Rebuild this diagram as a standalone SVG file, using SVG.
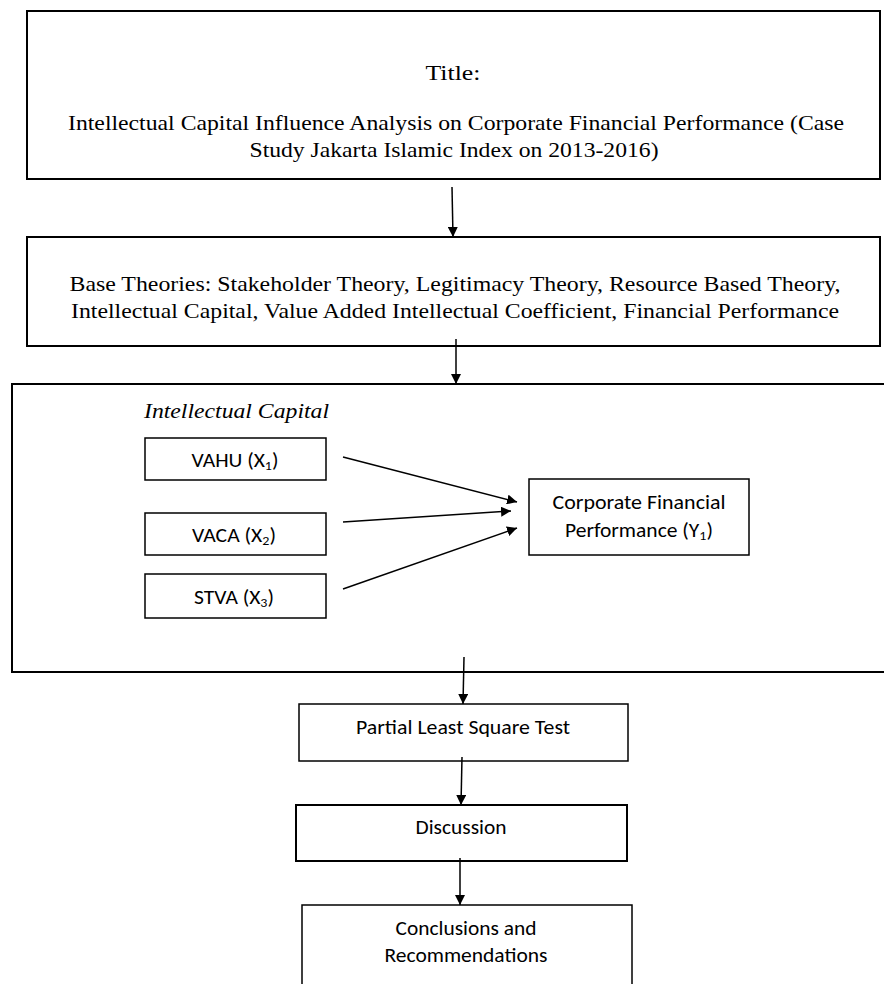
<svg xmlns="http://www.w3.org/2000/svg" width="884" height="984" viewBox="0 0 884 984">
<defs>
<marker id="ah" markerWidth="11" markerHeight="10" refX="10" refY="5" orient="auto" markerUnits="userSpaceOnUse">
<path d="M0,0 L10,5 L0,10 Z" fill="#000"/>
</marker>
<style>
.box{fill:#fff;stroke:#000;stroke-width:2}
.sbox{fill:#fff;stroke:#000;stroke-width:1.5}
.serif{font-family:"Liberation Serif","Times New Roman",serif;font-size:22px;fill:#000;text-anchor:middle}
.sans{font-family:"Carlito","Liberation Sans",Arial,sans-serif;font-size:20px;fill:#000;text-anchor:middle}
.sub{font-size:13px}
.conn{stroke:#000;stroke-width:1.5;fill:none;marker-end:url(#ah)}
</style>
</defs>
<rect width="884" height="984" fill="#fff"/>
<g id="title">
<rect class="box" x="27" y="11" width="853" height="168"/>
<text class="serif" x="453" y="80" textLength="55" lengthAdjust="spacingAndGlyphs">Title:</text>
<text class="serif" x="456" y="130" textLength="776" lengthAdjust="spacingAndGlyphs">Intellectual Capital Influence Analysis on Corporate Financial Performance (Case</text>
<text class="serif" x="454" y="157" textLength="409" lengthAdjust="spacingAndGlyphs">Study Jakarta Islamic Index on 2013-2016)</text>
</g>
<g id="theories">
<rect class="box" x="27" y="237" width="853" height="109"/>
<text class="serif" x="455" y="291" textLength="771" lengthAdjust="spacingAndGlyphs">Base Theories: Stakeholder Theory, Legitimacy Theory, Resource Based Theory,</text>
<text class="serif" x="455" y="318" textLength="768" lengthAdjust="spacingAndGlyphs">Intellectual Capital, Value Added Intellectual Coefficient, Financial Performance</text>
</g>
<g id="ic">
<rect class="box" x="12" y="384" width="880" height="288"/>
<text x="144" y="418" font-family="'Liberation Serif','Times New Roman',serif" font-style="italic" font-size="22px" textLength="185" lengthAdjust="spacingAndGlyphs">Intellectual Capital</text>
</g>
<g id="vahu">
<rect class="sbox" x="145" y="438" width="181" height="42"/>
<text class="sans" x="235" y="467" textLength="87" lengthAdjust="spacingAndGlyphs">VAHU (X<tspan class="sub" dy="3">1</tspan><tspan dy="-3">)</tspan></text>
</g>
<g id="vaca">
<rect class="sbox" x="145" y="513" width="181" height="42"/>
<text class="sans" x="234" y="542" textLength="84" lengthAdjust="spacingAndGlyphs">VACA (X<tspan class="sub" dy="3">2</tspan><tspan dy="-3">)</tspan></text>
</g>
<g id="stva">
<rect class="sbox" x="145" y="574" width="181" height="44"/>
<text class="sans" x="234" y="604" textLength="80" lengthAdjust="spacingAndGlyphs">STVA (X<tspan class="sub" dy="3">3</tspan><tspan dy="-3">)</tspan></text>
</g>
<g id="cfp">
<rect class="sbox" x="529" y="479" width="220" height="76"/>
<text class="sans" x="639" y="509" textLength="173" lengthAdjust="spacingAndGlyphs">Corporate Financial</text>
<text class="sans" x="639" y="537" textLength="148" lengthAdjust="spacingAndGlyphs">Performance (Y<tspan class="sub" dy="3">1</tspan><tspan dy="-3">)</tspan></text>
</g>
<g id="pls">
<rect class="sbox" x="299" y="704" width="329" height="57"/>
<text class="sans" x="463" y="734" textLength="214" lengthAdjust="spacingAndGlyphs">Partial Least Square Test</text>
</g>
<g id="discussion">
<rect class="box" x="296" y="805" width="331" height="56"/>
<text class="sans" x="461" y="834" textLength="91" lengthAdjust="spacingAndGlyphs">Discussion</text>
</g>
<g id="conclusions">
<rect class="sbox" x="302" y="905" width="330" height="90"/>
<text class="sans" x="466" y="935" textLength="141" lengthAdjust="spacingAndGlyphs">Conclusions and</text>
<text class="sans" x="466" y="962" textLength="163" lengthAdjust="spacingAndGlyphs">Recommendations</text>
</g>
<g id="connectors">
<line class="conn" x1="452" y1="187" x2="453" y2="237"/>
<line class="conn" x1="456" y1="339" x2="456" y2="384"/>
<line class="conn" x1="343" y1="457" x2="517" y2="502"/>
<line class="conn" x1="343" y1="522" x2="511" y2="511"/>
<line class="conn" x1="343" y1="589" x2="517" y2="528"/>
<line class="conn" x1="464" y1="657" x2="463" y2="704"/>
<line class="conn" x1="462" y1="757" x2="461" y2="805"/>
<line class="conn" x1="460" y1="858" x2="460" y2="905"/>
</g>
</svg>
